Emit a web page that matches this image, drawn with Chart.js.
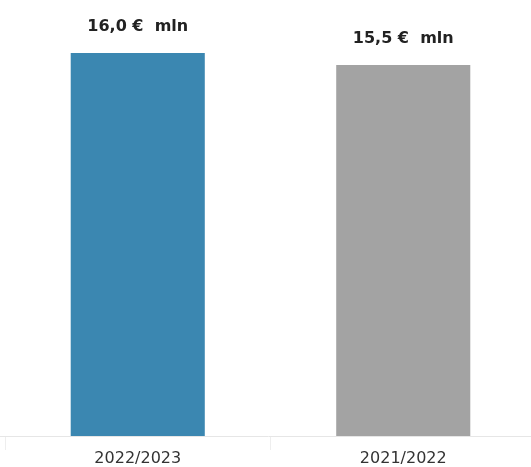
<!DOCTYPE html>
<html>
<head>
<meta charset="utf-8">
<script src="https://cdn.jsdelivr.net/npm/chart.js@4/dist/chart.umd.min.js"></script>
<style>
html,body{margin:0;padding:0;background:#fff;overflow:hidden;}
#wrap{width:531px;height:467px;position:relative;overflow:hidden;}
canvas{display:block;}
</style>
</head>
<body>
<div id="wrap"><canvas id="c" width="537" height="467"></canvas></div>
<script>
const categories = ["2022/2023", "2021/2022"];
const values = [16.0, 15.5];
const valueLabels = ["16,0 €  mln", "15,5 €  mln"];
const barColors = ["#3b87b1", "#a3a3a3"];

const valueLabelPlugin = {
  id: 'valueLabels',
  afterDatasetsDraw(chart) {
    const ctx = chart.ctx;
    const meta = chart.getDatasetMeta(0);
    ctx.save();
    ctx.font = 'bold 16px "DejaVu Sans"';
    ctx.fillStyle = '#222222';
    ctx.textAlign = 'center';
    ctx.textBaseline = 'middle';
    meta.data.forEach((bar, i) => {
      ctx.fillText(valueLabels[i], bar.x, bar.y - 26);
    });
    ctx.restore();
  }
};

const baselinePlugin = {
  id: 'baseline',
  afterDraw(chart) {
    const ctx = chart.ctx;
    const y = chart.scales.y.getPixelForValue(0) + 0.5;
    ctx.save();
    ctx.strokeStyle = '#e6e6e6';
    ctx.lineWidth = 1;
    ctx.beginPath();
    ctx.moveTo(0, y);
    ctx.lineTo(chart.width, y);
    ctx.stroke();
    ctx.restore();
  }
};

new Chart(document.getElementById('c'), {
  type: 'bar',
  data: {
    labels: categories,
    datasets: [{
      data: values,
      backgroundColor: barColors,
      borderWidth: 0,
      barPercentage: 0.505,
      categoryPercentage: 1.0
    }]
  },
  options: {
    responsive: false,
    animation: false,
    layout: { padding: { left: 5, right: 1, top: 0, bottom: 0 } },
    plugins: { legend: { display: false }, tooltip: { enabled: false } },
    scales: {
      x: {
        grid: { display: true, drawOnChartArea: false, drawTicks: true, tickLength: 14, color: '#eeeeee', offset: true },
        border: { display: false },
        ticks: { color: '#333333', font: { family: 'DejaVu Sans', size: 16, lineHeight: 0.8125 }, padding: 2, maxRotation: 0 }
      },
      y: {
        display: false,
        min: 0,
        max: 18.214
      }
    }
  },
  plugins: [valueLabelPlugin, baselinePlugin]
});
</script>
</body>
</html>
